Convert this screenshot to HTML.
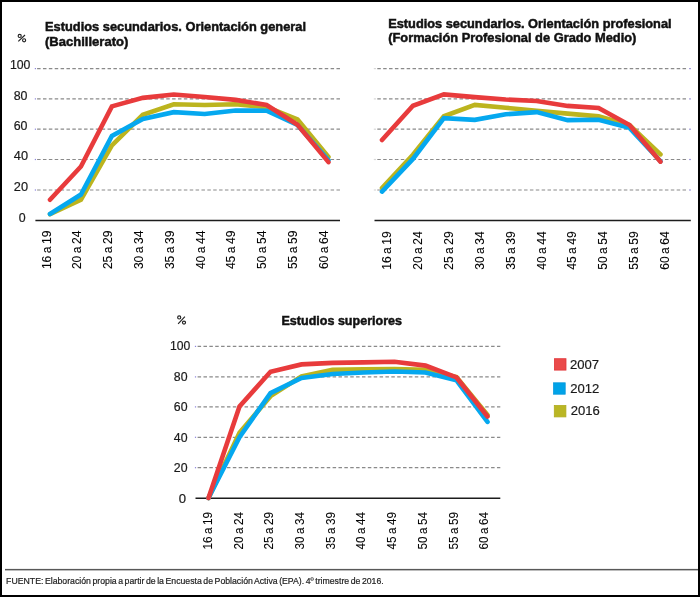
<!DOCTYPE html>
<html><head><meta charset="utf-8"><style>
html,body{margin:0;padding:0;background:#fff;}
#f{position:relative;width:700px;height:597px;box-sizing:border-box;border:2px solid #000;overflow:hidden;}
svg{position:absolute;left:-2px;top:-2px;will-change:transform;}
text{font-family:"Liberation Sans",sans-serif;}
</style></head><body><div id="f"><svg width="700" height="597" viewBox="0 0 700 597">
<line x1="37.1" y1="190.00" x2="340" y2="190.00" stroke="#8a8a8a" stroke-width="1.2" stroke-dasharray="3.5 2.37"/>
<rect x="34.8" y="189.40" width="1.2" height="1.2" fill="#8c84dc"/>
<line x1="37.1" y1="159.50" x2="340" y2="159.50" stroke="#8a8a8a" stroke-width="1.2" stroke-dasharray="3.5 2.37"/>
<rect x="34.8" y="158.90" width="1.2" height="1.2" fill="#8c84dc"/>
<line x1="37.1" y1="129.20" x2="340" y2="129.20" stroke="#8a8a8a" stroke-width="1.2" stroke-dasharray="3.5 2.37"/>
<rect x="34.8" y="128.60" width="1.2" height="1.2" fill="#8c84dc"/>
<line x1="37.1" y1="98.90" x2="340" y2="98.90" stroke="#8a8a8a" stroke-width="1.2" stroke-dasharray="3.5 2.37"/>
<rect x="34.8" y="98.30" width="1.2" height="1.2" fill="#8c84dc"/>
<line x1="37.1" y1="68.60" x2="340" y2="68.60" stroke="#8a8a8a" stroke-width="1.2" stroke-dasharray="3.5 2.37"/>
<rect x="34.8" y="68.00" width="1.2" height="1.2" fill="#8c84dc"/>
<line x1="35.4" y1="220.6" x2="340" y2="220.6" stroke="#1c1c1c" stroke-width="1.5"/>
<polyline points="50.00,214.24 80.94,199.70 111.88,145.46 142.82,114.86 173.76,104.25 204.70,105.01 235.64,104.25 266.58,107.13 297.52,119.40 328.46,156.97" fill="none" stroke="#bcb41e" stroke-width="4.6" stroke-linejoin="miter" stroke-linecap="round"/>
<polyline points="50.00,213.94 80.94,194.55 111.88,135.91 142.82,118.95 173.76,112.13 204.70,113.95 235.64,110.46 266.58,110.77 297.52,125.01 328.46,160.31" fill="none" stroke="#05a8ef" stroke-width="4.6" stroke-linejoin="miter" stroke-linecap="round"/>
<polyline points="50.00,199.70 80.94,166.52 111.88,106.37 142.82,97.89 173.76,94.56 204.70,96.98 235.64,99.86 266.58,105.01 297.52,124.86 328.46,162.12" fill="none" stroke="#e83b3c" stroke-width="4.6" stroke-linejoin="miter" stroke-linecap="round"/>
<line x1="377.3" y1="190.00" x2="688.4" y2="190.00" stroke="#8a8a8a" stroke-width="1.2" stroke-dasharray="3.5 2.37"/>
<rect x="689.0" y="189.40" width="2.0" height="1.2" fill="#a49ddc"/>
<rect x="373.8" y="189.40" width="2.1999999999999886" height="1.2" fill="#d8d8d8"/>
<line x1="377.3" y1="159.50" x2="688.4" y2="159.50" stroke="#8a8a8a" stroke-width="1.2" stroke-dasharray="3.5 2.37"/>
<rect x="689.0" y="158.90" width="2.0" height="1.2" fill="#a49ddc"/>
<rect x="373.8" y="158.90" width="2.1999999999999886" height="1.2" fill="#d8d8d8"/>
<line x1="377.3" y1="129.20" x2="688.4" y2="129.20" stroke="#8a8a8a" stroke-width="1.2" stroke-dasharray="3.5 2.37"/>
<rect x="689.0" y="128.60" width="2.0" height="1.2" fill="#a49ddc"/>
<rect x="373.8" y="128.60" width="2.1999999999999886" height="1.2" fill="#d8d8d8"/>
<line x1="377.3" y1="98.90" x2="688.4" y2="98.90" stroke="#8a8a8a" stroke-width="1.2" stroke-dasharray="3.5 2.37"/>
<rect x="689.0" y="98.30" width="2.0" height="1.2" fill="#a49ddc"/>
<rect x="373.8" y="98.30" width="2.1999999999999886" height="1.2" fill="#d8d8d8"/>
<line x1="377.3" y1="68.60" x2="688.4" y2="68.60" stroke="#8a8a8a" stroke-width="1.2" stroke-dasharray="3.5 2.37"/>
<rect x="689.0" y="68.00" width="2.0" height="1.2" fill="#a49ddc"/>
<rect x="373.8" y="68.00" width="2.1999999999999886" height="1.2" fill="#d8d8d8"/>
<line x1="374.5" y1="220.6" x2="690.8" y2="220.6" stroke="#1c1c1c" stroke-width="1.5"/>
<polyline points="382.00,188.03 412.94,154.70 443.88,116.22 474.82,104.86 505.76,107.74 536.70,110.77 567.64,113.64 598.58,116.37 629.52,125.01 660.46,154.40" fill="none" stroke="#bcb41e" stroke-width="4.6" stroke-linejoin="miter" stroke-linecap="round"/>
<polyline points="382.00,191.67 412.94,158.94 443.88,118.19 474.82,119.86 505.76,114.25 536.70,112.13 567.64,120.16 598.58,119.70 629.52,127.89 660.46,161.22" fill="none" stroke="#05a8ef" stroke-width="4.6" stroke-linejoin="miter" stroke-linecap="round"/>
<polyline points="382.00,140.00 412.94,105.77 443.88,94.40 474.82,97.13 505.76,99.55 536.70,100.92 567.64,105.92 598.58,107.89 629.52,125.01 660.46,161.67" fill="none" stroke="#e83b3c" stroke-width="4.6" stroke-linejoin="miter" stroke-linecap="round"/>
<line x1="197.6" y1="467.70" x2="500.3" y2="467.70" stroke="#8a8a8a" stroke-width="1.2" stroke-dasharray="3.5 2.37"/>
<rect x="194.9" y="467.10" width="1.2" height="1.2" fill="#8c84dc"/>
<line x1="197.6" y1="437.30" x2="500.3" y2="437.30" stroke="#8a8a8a" stroke-width="1.2" stroke-dasharray="3.5 2.37"/>
<rect x="194.9" y="436.70" width="1.2" height="1.2" fill="#8c84dc"/>
<line x1="197.6" y1="406.90" x2="500.3" y2="406.90" stroke="#8a8a8a" stroke-width="1.2" stroke-dasharray="3.5 2.37"/>
<rect x="194.9" y="406.30" width="1.2" height="1.2" fill="#8c84dc"/>
<line x1="197.6" y1="376.90" x2="500.3" y2="376.90" stroke="#8a8a8a" stroke-width="1.2" stroke-dasharray="3.5 2.37"/>
<rect x="194.9" y="376.30" width="1.2" height="1.2" fill="#8c84dc"/>
<line x1="197.6" y1="346.40" x2="500.3" y2="346.40" stroke="#8a8a8a" stroke-width="1.2" stroke-dasharray="3.5 2.37"/>
<rect x="194.9" y="345.80" width="1.2" height="1.2" fill="#8c84dc"/>
<line x1="195.5" y1="498.3" x2="500.3" y2="498.3" stroke="#1c1c1c" stroke-width="1.5"/>
<polyline points="208.50,498.00 239.50,432.64 270.50,396.16 301.50,376.40 332.50,369.86 363.50,369.41 394.50,369.10 425.50,369.86 456.50,377.16 487.50,414.86" fill="none" stroke="#bcb41e" stroke-width="4.6" stroke-linejoin="miter" stroke-linecap="round"/>
<polyline points="208.50,498.00 239.50,437.20 270.50,393.12 301.50,377.92 332.50,373.97 363.50,372.45 394.50,371.54 425.50,372.45 456.50,380.35 487.50,421.85" fill="none" stroke="#05a8ef" stroke-width="4.6" stroke-linejoin="miter" stroke-linecap="round"/>
<polyline points="208.50,498.00 239.50,406.50 270.50,371.84 301.50,364.39 332.50,362.87 363.50,362.42 394.50,361.81 425.50,365.61 456.50,377.46 487.50,416.53" fill="none" stroke="#e83b3c" stroke-width="4.6" stroke-linejoin="miter" stroke-linecap="round"/>
<text transform="translate(50.60,269.1) rotate(-90)" font-size="13" word-spacing="-0.9" stroke="#1a1a1a" stroke-width="0.1" textLength="38.6" lengthAdjust="spacingAndGlyphs">16 a 19</text>
<text transform="translate(81.40,269.1) rotate(-90)" font-size="13" word-spacing="-0.9" stroke="#1a1a1a" stroke-width="0.1" textLength="38.6" lengthAdjust="spacingAndGlyphs">20 a 24</text>
<text transform="translate(112.20,269.1) rotate(-90)" font-size="13" word-spacing="-0.9" stroke="#1a1a1a" stroke-width="0.1" textLength="38.6" lengthAdjust="spacingAndGlyphs">25 a 29</text>
<text transform="translate(143.00,269.1) rotate(-90)" font-size="13" word-spacing="-0.9" stroke="#1a1a1a" stroke-width="0.1" textLength="38.6" lengthAdjust="spacingAndGlyphs">30 a 34</text>
<text transform="translate(173.80,269.1) rotate(-90)" font-size="13" word-spacing="-0.9" stroke="#1a1a1a" stroke-width="0.1" textLength="38.6" lengthAdjust="spacingAndGlyphs">35 a 39</text>
<text transform="translate(204.60,269.1) rotate(-90)" font-size="13" word-spacing="-0.9" stroke="#1a1a1a" stroke-width="0.1" textLength="38.6" lengthAdjust="spacingAndGlyphs">40 a 44</text>
<text transform="translate(235.40,269.1) rotate(-90)" font-size="13" word-spacing="-0.9" stroke="#1a1a1a" stroke-width="0.1" textLength="38.6" lengthAdjust="spacingAndGlyphs">45 a 49</text>
<text transform="translate(266.20,269.1) rotate(-90)" font-size="13" word-spacing="-0.9" stroke="#1a1a1a" stroke-width="0.1" textLength="38.6" lengthAdjust="spacingAndGlyphs">50 a 54</text>
<text transform="translate(297.00,269.1) rotate(-90)" font-size="13" word-spacing="-0.9" stroke="#1a1a1a" stroke-width="0.1" textLength="38.6" lengthAdjust="spacingAndGlyphs">55 a 59</text>
<text transform="translate(327.80,269.1) rotate(-90)" font-size="13" word-spacing="-0.9" stroke="#1a1a1a" stroke-width="0.1" textLength="38.6" lengthAdjust="spacingAndGlyphs">60 a 64</text>
<text transform="translate(391.20,269.8) rotate(-90)" font-size="13" word-spacing="-0.9" stroke="#1a1a1a" stroke-width="0.1" textLength="38.4" lengthAdjust="spacingAndGlyphs">16 a 19</text>
<text transform="translate(422.07,269.8) rotate(-90)" font-size="13" word-spacing="-0.9" stroke="#1a1a1a" stroke-width="0.1" textLength="38.4" lengthAdjust="spacingAndGlyphs">20 a 24</text>
<text transform="translate(452.94,269.8) rotate(-90)" font-size="13" word-spacing="-0.9" stroke="#1a1a1a" stroke-width="0.1" textLength="38.4" lengthAdjust="spacingAndGlyphs">25 a 29</text>
<text transform="translate(483.81,269.8) rotate(-90)" font-size="13" word-spacing="-0.9" stroke="#1a1a1a" stroke-width="0.1" textLength="38.4" lengthAdjust="spacingAndGlyphs">30 a 34</text>
<text transform="translate(514.68,269.8) rotate(-90)" font-size="13" word-spacing="-0.9" stroke="#1a1a1a" stroke-width="0.1" textLength="38.4" lengthAdjust="spacingAndGlyphs">35 a 39</text>
<text transform="translate(545.55,269.8) rotate(-90)" font-size="13" word-spacing="-0.9" stroke="#1a1a1a" stroke-width="0.1" textLength="38.4" lengthAdjust="spacingAndGlyphs">40 a 44</text>
<text transform="translate(576.42,269.8) rotate(-90)" font-size="13" word-spacing="-0.9" stroke="#1a1a1a" stroke-width="0.1" textLength="38.4" lengthAdjust="spacingAndGlyphs">45 a 49</text>
<text transform="translate(607.29,269.8) rotate(-90)" font-size="13" word-spacing="-0.9" stroke="#1a1a1a" stroke-width="0.1" textLength="38.4" lengthAdjust="spacingAndGlyphs">50 a 54</text>
<text transform="translate(638.16,269.8) rotate(-90)" font-size="13" word-spacing="-0.9" stroke="#1a1a1a" stroke-width="0.1" textLength="38.4" lengthAdjust="spacingAndGlyphs">55 a 59</text>
<text transform="translate(669.03,269.8) rotate(-90)" font-size="13" word-spacing="-0.9" stroke="#1a1a1a" stroke-width="0.1" textLength="38.4" lengthAdjust="spacingAndGlyphs">60 a 64</text>
<text transform="translate(211.90,549.6) rotate(-90)" font-size="13" word-spacing="-0.9" stroke="#1a1a1a" stroke-width="0.1" textLength="37.6" lengthAdjust="spacingAndGlyphs">16 a 19</text>
<text transform="translate(242.60,549.6) rotate(-90)" font-size="13" word-spacing="-0.9" stroke="#1a1a1a" stroke-width="0.1" textLength="37.6" lengthAdjust="spacingAndGlyphs">20 a 24</text>
<text transform="translate(273.30,549.6) rotate(-90)" font-size="13" word-spacing="-0.9" stroke="#1a1a1a" stroke-width="0.1" textLength="37.6" lengthAdjust="spacingAndGlyphs">25 a 29</text>
<text transform="translate(304.00,549.6) rotate(-90)" font-size="13" word-spacing="-0.9" stroke="#1a1a1a" stroke-width="0.1" textLength="37.6" lengthAdjust="spacingAndGlyphs">30 a 34</text>
<text transform="translate(334.70,549.6) rotate(-90)" font-size="13" word-spacing="-0.9" stroke="#1a1a1a" stroke-width="0.1" textLength="37.6" lengthAdjust="spacingAndGlyphs">35 a 39</text>
<text transform="translate(365.40,549.6) rotate(-90)" font-size="13" word-spacing="-0.9" stroke="#1a1a1a" stroke-width="0.1" textLength="37.6" lengthAdjust="spacingAndGlyphs">40 a 44</text>
<text transform="translate(396.10,549.6) rotate(-90)" font-size="13" word-spacing="-0.9" stroke="#1a1a1a" stroke-width="0.1" textLength="37.6" lengthAdjust="spacingAndGlyphs">45 a 49</text>
<text transform="translate(426.80,549.6) rotate(-90)" font-size="13" word-spacing="-0.9" stroke="#1a1a1a" stroke-width="0.1" textLength="37.6" lengthAdjust="spacingAndGlyphs">50 a 54</text>
<text transform="translate(457.50,549.6) rotate(-90)" font-size="13" word-spacing="-0.9" stroke="#1a1a1a" stroke-width="0.1" textLength="37.6" lengthAdjust="spacingAndGlyphs">55 a 59</text>
<text transform="translate(488.20,549.6) rotate(-90)" font-size="13" word-spacing="-0.9" stroke="#1a1a1a" stroke-width="0.1" textLength="37.6" lengthAdjust="spacingAndGlyphs">60 a 64</text>
<text x="9.9" y="68.9" font-size="12" textLength="20.5" lengthAdjust="spacingAndGlyphs" stroke="#1a1a1a" stroke-width="0.2" fill="#1a1a1a">100</text>
<text x="13.7" y="99.6" font-size="12" textLength="13.8" lengthAdjust="spacingAndGlyphs" stroke="#1a1a1a" stroke-width="0.2" fill="#1a1a1a">80</text>
<text x="13.7" y="130.0" font-size="12" textLength="13.8" lengthAdjust="spacingAndGlyphs" stroke="#1a1a1a" stroke-width="0.2" fill="#1a1a1a">60</text>
<text x="13.8" y="160.1" font-size="12" textLength="14.2" lengthAdjust="spacingAndGlyphs" stroke="#1a1a1a" stroke-width="0.2" fill="#1a1a1a">40</text>
<text x="13.8" y="190.6" font-size="12" textLength="14.2" lengthAdjust="spacingAndGlyphs" stroke="#1a1a1a" stroke-width="0.2" fill="#1a1a1a">20</text>
<text x="18.8" y="222.0" font-size="12" textLength="6.9" lengthAdjust="spacingAndGlyphs" stroke="#1a1a1a" stroke-width="0.2" fill="#1a1a1a">0</text>
<text x="170" y="350.4" font-size="12" textLength="20.3" lengthAdjust="spacingAndGlyphs" stroke="#1a1a1a" stroke-width="0.2" fill="#1a1a1a">100</text>
<text x="173.8" y="380.8" font-size="12" textLength="13.7" lengthAdjust="spacingAndGlyphs" stroke="#1a1a1a" stroke-width="0.2" fill="#1a1a1a">80</text>
<text x="173.8" y="411.4" font-size="12" textLength="13.7" lengthAdjust="spacingAndGlyphs" stroke="#1a1a1a" stroke-width="0.2" fill="#1a1a1a">60</text>
<text x="173.8" y="441.9" font-size="12" textLength="13.7" lengthAdjust="spacingAndGlyphs" stroke="#1a1a1a" stroke-width="0.2" fill="#1a1a1a">40</text>
<text x="173.8" y="472.4" font-size="12" textLength="13.7" lengthAdjust="spacingAndGlyphs" stroke="#1a1a1a" stroke-width="0.2" fill="#1a1a1a">20</text>
<text x="178.8" y="503.0" font-size="12" textLength="7.3" lengthAdjust="spacingAndGlyphs" stroke="#1a1a1a" stroke-width="0.2" fill="#1a1a1a">0</text>
<g fill="none" stroke="#222" stroke-width="1.15"><circle cx="19.7" cy="35.9" r="1.55"/><circle cx="24.1" cy="40.3" r="1.55"/><line x1="25.0" y1="35.0" x2="18.3" y2="41.3"/></g>
<g fill="none" stroke="#222" stroke-width="1.15"><circle cx="179.2" cy="317.4" r="1.55"/><circle cx="184.0" cy="322.6" r="1.55"/><line x1="184.9" y1="316.6" x2="178.1" y2="323.8"/></g>
<text x="45" y="31.3" font-size="13.4" textLength="261" lengthAdjust="spacingAndGlyphs" font-weight="bold" stroke="#111" stroke-width="0.5" fill="#111">Estudios secundarios. Orientación general</text>
<text x="45" y="45.5" font-size="13.4" textLength="83.3" lengthAdjust="spacingAndGlyphs" font-weight="bold" stroke="#111" stroke-width="0.5" fill="#111">(Bachillerato)</text>
<text x="388.2" y="27.7" font-size="13.4" textLength="283.4" lengthAdjust="spacingAndGlyphs" font-weight="bold" stroke="#111" stroke-width="0.5" fill="#111">Estudios secundarios. Orientación profesional</text>
<text x="388.2" y="41.7" font-size="13.4" textLength="248.2" lengthAdjust="spacingAndGlyphs" font-weight="bold" stroke="#111" stroke-width="0.5" fill="#111">(Formación Profesional de Grado Medio)</text>
<text x="281.5" y="324.6" font-size="13.4" textLength="120.5" lengthAdjust="spacingAndGlyphs" font-weight="bold" stroke="#111" stroke-width="0.5" fill="#111">Estudios superiores</text>
<rect x="554.4" y="358.7" width="11.6" height="11.4" fill="#ea4a4a" stroke="#e2363a" stroke-width="0.8"/>
<text x="570.0" y="368.7" font-size="13" textLength="29.1" lengthAdjust="spacingAndGlyphs" stroke="#1a1a1a" stroke-width="0.2" fill="#1a1a1a">2007</text>
<rect x="553.6" y="382.8" width="11.6" height="11.4" fill="#00a3e8" stroke="#0898dc" stroke-width="0.8"/>
<text x="570.2" y="393.0" font-size="13" textLength="29.1" lengthAdjust="spacingAndGlyphs" stroke="#1a1a1a" stroke-width="0.2" fill="#1a1a1a">2012</text>
<rect x="554.3" y="405.5" width="11.6" height="11.4" fill="#bab624" stroke="#b0ac1e" stroke-width="0.8"/>
<text x="570.7" y="415.2" font-size="13" textLength="29.1" lengthAdjust="spacingAndGlyphs" stroke="#1a1a1a" stroke-width="0.2" fill="#1a1a1a">2016</text>
<rect x="5" y="568.9" width="694" height="1.5" fill="#585858"/>
<text x="6.1" y="583.6" font-size="9.8" textLength="377.6" lengthAdjust="spacingAndGlyphs" stroke="#222" stroke-width="0.22" word-spacing="-1.0" fill="#222">FUENTE: Elaboración propia a partir de la Encuesta de Población Activa (EPA). 4º trimestre de 2016.</text>
</svg></div></body></html>
